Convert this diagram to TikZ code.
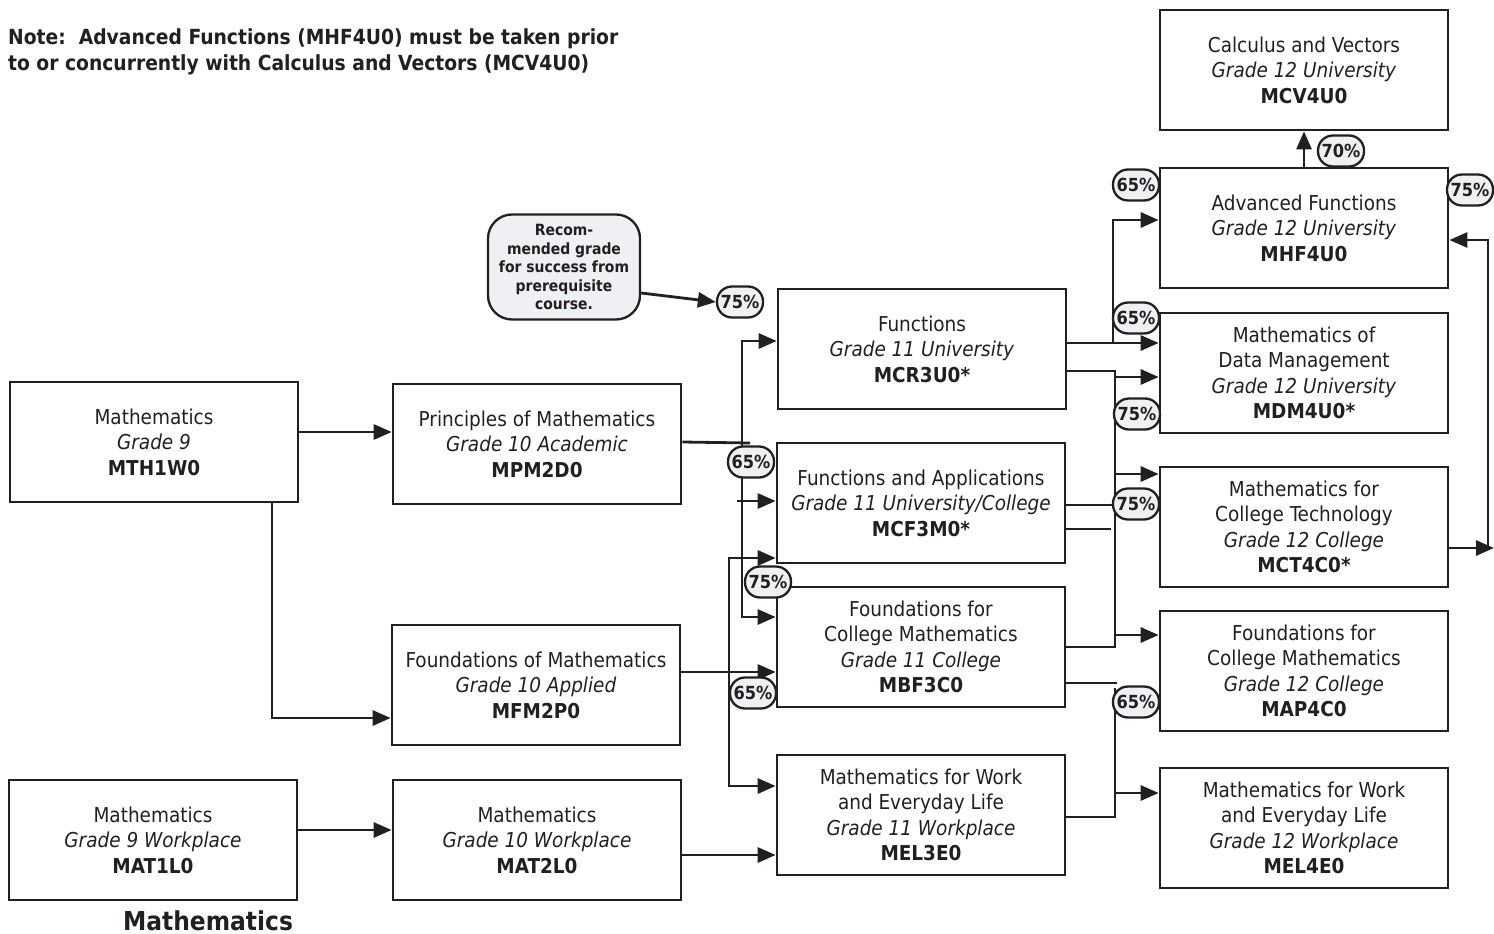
\documentclass[tikz,border=0pt]{standalone}
\usepackage{fontspec}
\setmainfont{DejaVu Sans Condensed}
\usepackage{tikz}
\usetikzlibrary{arrows.meta,positioning}
\definecolor{ink}{HTML}{231F20}
\definecolor{badgefill}{HTML}{EEF0F3}

\begin{document}
\begin{tikzpicture}[x=1pt,y=-1pt,
  course/.style={draw=ink,line width=2.7pt,minimum width=288pt,minimum height=120pt,
    align=center,text=ink,font=\fontsize{20.5}{25.5}\selectfont,inner sep=0pt},
  grade/.style={draw=ink,line width=2.3pt,rounded corners=15pt,fill=badgefill,
    minimum width=46pt,minimum height=31pt,inner sep=1pt,text=ink,
    font=\fontsize{18}{18}\selectfont\bfseries},
  wire/.style={draw=ink,line width=2.8pt},
  link/.style={wire,-{Triangle[length=18pt,width=15pt]}}
]
  \useasboundingbox (0,0) rectangle (1494,934);

  % Note and title
  \node[anchor=north west,align=left,text=ink,inner sep=0pt,
    font=\fontsize{20.8}{26}\selectfont\bfseries] (note) at (8,28)
    {Note:\ \ Advanced Functions (MHF4U0) must be taken prior\\to or concurrently with Calculus and Vectors (MCV4U0)};
  \node[text=ink,font=\fontsize{26}{26}\selectfont\bfseries] (title) at (208,921) {Mathematics};

  % Grade 9 and 10
  \node[course] (mth) at (154,442) {Mathematics\\\textit{Grade 9}\\\textbf{MTH1W0}};
  \node[course] (mpm) at (537,444) {Principles of Mathematics\\\textit{Grade 10 Academic}\\\textbf{MPM2D0}};
  \node[course] (mfm) at (536,685) {Foundations of Mathematics\\\textit{Grade 10 Applied}\\\textbf{MFM2P0}};
  \node[course] (matA) at (153,840) {Mathematics\\\textit{Grade 9 Workplace}\\\textbf{MAT1L0}};
  \node[course] (matB) at (537,840) {Mathematics\\\textit{Grade 10 Workplace}\\\textbf{MAT2L0}};

  % Grade 11
  \node[course] (mcr) at (922,349) {Functions\\\textit{Grade 11 University}\\\textbf{MCR3U0*}};
  \node[course] (mcf) at (921,503) {Functions and Applications\\\textit{Grade 11 University/College}\\\textbf{MCF3M0*}};
  \node[course] (mbf) at (921,647) {Foundations for\\College Mathematics\\\textit{Grade 11 College}\\\textbf{MBF3C0}};
  \node[course] (melA) at (921,815) {Mathematics for Work\\and Everyday Life\\\textit{Grade 11 Workplace}\\\textbf{MEL3E0}};

  % Grade 12
  \node[course] (mcv) at (1304,70) {Calculus and Vectors\\\textit{Grade 12 University}\\\textbf{MCV4U0}};
  \node[course] (mhf) at (1304,228) {Advanced Functions\\\textit{Grade 12 University}\\\textbf{MHF4U0}};
  \node[course] (mdm) at (1304,373) {Mathematics of\\Data Management\\\textit{Grade 12 University}\\\textbf{MDM4U0*}};
  \node[course] (mct) at (1304,527) {Mathematics for\\College Technology\\\textit{Grade 12 College}\\\textbf{MCT4C0*}};
  \node[course] (map) at (1304,671) {Foundations for\\College Mathematics\\\textit{Grade 12 College}\\\textbf{MAP4C0}};
  \node[course] (melB) at (1304,828) {Mathematics for Work\\and Everyday Life\\\textit{Grade 12 Workplace}\\\textbf{MEL4E0}};

  % Legend callout
  \node[draw=ink,line width=2.3pt,rounded corners=24pt,fill=badgefill,minimum width=152pt,
    minimum height=105pt,align=center,text=ink,inner sep=0pt,
    font=\fontsize{15.5}{18.5}\selectfont\bfseries] (legend) at (564,267)
    {Recom-\\mended grade\\for success from\\prerequisite\\course.};

  % junction points
  \coordinate (jA) at (272,0);
  \coordinate (jB) at (729,0);
  \coordinate (jC) at (742,0);
  \coordinate (jD) at (1113,0);
  \coordinate (jE) at (1115,0);
  \coordinate (jF) at (1488,0);

  % Grade 9 -> 10 -> 11
  \draw[link] (mth.east|-0,432) -- (mpm.west|-0,432);
  \draw[link] (jA|-mth.south) -- (jA|-0,718) -- (mfm.west|-0,718);
  \draw[link] (matA.east|-0,830) -- (matB.west|-0,830);
  \draw[link] (matB.east|-0,855) -- (melA.west|-0,855);

  \draw[wire] (mpm.east|-0,442) -- (750,443);
  \draw[link] (jC|-0,480) -- (jC|-0,341) -- (mcr.west|-0,341);
  \draw[link] (jC|-0,480) -- (jC|-0,617) -- (mbf.west|-0,617);
  \draw[link] (737,501) -- (mcf.west|-0,501);

  \draw[link] (mfm.east|-0,672) -- (mbf.west|-0,672);
  \draw[link] (jB|-0,700) -- (jB|-0,558) -- (mcf.west|-0,558);
  \draw[link] (jB|-0,700) -- (jB|-0,786) -- (melA.west|-0,786);

  % Grade 11 -> 12
  \draw[link] (mcr.east|-0,343) -- (mdm.west|-0,343);
  \draw[link] (jD|-0,343) -- (jD|-0,220) -- (mhf.west|-0,220);
  \draw[wire] (mcr.east|-0,371) -- (jE|-0,371) -- (jE|-0,647) -- (mbf.east|-0,647);
  \draw[link] (jE|-0,377) -- (mdm.west|-0,377);
  \draw[link] (jE|-0,474) -- (mct.west|-0,474);
  \draw[link] (jE|-0,635) -- (map.west|-0,635);
  \draw[wire] (mcf.east|-0,505) -- (jE|-0,505);
  \draw[wire] (mcf.east|-0,529) -- (1111,529);
  \draw[wire] (mbf.east|-0,683) -- (1117,683);
  \draw[wire] (melA.east|-0,817) -- (jE|-0,817) -- (jE|-0,688);
  \draw[link] (jE|-0,793) -- (melB.west|-0,793);

  \draw[link] (mhf.north) -- (mcv.south);
  \draw[link] (mct.east|-0,548) -- (1494,548);
  \draw[link] (jF|-0,548) -- (jF|-0,240) -- (mhf.east|-0,240);

  % Recommended grades
  \node[grade] (gA) at (740,302) {75\%};
  \node[grade] (gB) at (751,462) {65\%};
  \node[grade] (gC) at (768,582) {75\%};
  \node[grade] (gD) at (753,693) {65\%};
  \node[grade] (gE) at (1136,185) {65\%};
  \node[grade] (gF) at (1341,151) {70\%};
  \node[grade] (gG) at (1470,190) {75\%};
  \node[grade] (gH) at (1136,318) {65\%};
  \node[grade] (gI) at (1137,414) {75\%};
  \node[grade] (gJ) at (1136,504) {75\%};
  \node[grade] (gK) at (1136,702) {65\%};

  \draw[link] (legend.east|-0,293) -- (gA.west);
\end{tikzpicture}
\end{document}
